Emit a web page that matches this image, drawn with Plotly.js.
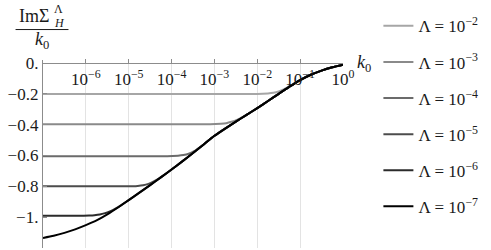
<!DOCTYPE html>
<html>
<head>
<meta charset="utf-8">
<script src="https://cdn.plot.ly/plotly-3.0.1.min.js"></script>
<style>html,body{margin:0;padding:0;background:#fff;}#chart{width:491px;height:250px;}</style>
</head>
<body>
<div id="chart"></div>
<script>
// Series: log10(k0) exponents and Im Σ_H^Λ / k0 values
var seriesNames = ["Λ = 10<sup>−2</sup>", "Λ = 10<sup>−3</sup>", "Λ = 10<sup>−4</sup>", "Λ = 10<sup>−5</sup>", "Λ = 10<sup>−6</sup>", "Λ = 10<sup>−7</sup>"];
var seriesColors = ["#a6a6a6", "#8a8a8a", "#6b6b6b", "#4c4c4c", "#2b2b2b", "#000000"];

var expL2 = [-7, -2, -1.875, -1.75, -1.625, -1.5, -1.375, -1.25, -1.125, -1, -0.75, -0.5, -0.25, 0];
var valL2 = [-0.200, -0.200, -0.199, -0.1973, -0.1931, -0.184, -0.1696, -0.1503, -0.1305, -0.110, -0.076, -0.049, -0.027, -0.010];

var expL3 = [-7, -3.1, -2.975, -2.85, -2.725, -2.6, -2.475, -2.35, -2.225, -2, -1.75, -1.5, -1.25, -1, -0.75, -0.5, -0.25, 0];
var valL3 = [-0.397, -0.397, -0.396, -0.3943, -0.3901, -0.381, -0.3687, -0.3509, -0.3306, -0.292, -0.246, -0.200, -0.153, -0.110, -0.076, -0.049, -0.027, -0.010];

var expL4 = [-7, -4.1, -3.975, -3.85, -3.725, -3.6, -3.475, -3.35, -3.225, -3, -2.75, -2.5, -2.25, -2, -1.75, -1.5, -1.25, -1, -0.75, -0.5, -0.25, 0];
var valL4 = [-0.604, -0.604, -0.603, -0.6013, -0.5971, -0.588, -0.5715, -0.5477, -0.5214, -0.472, -0.425, -0.380, -0.336, -0.292, -0.246, -0.200, -0.153, -0.110, -0.076, -0.049, -0.027, -0.010];

var expL5 = [-7, -5.04, -4.915, -4.79, -4.665, -4.54, -4.415, -4.29, -4.165, -4, -3.75, -3.5, -3.25, -3, -2.75, -2.5, -2.25, -2, -1.75, -1.5, -1.25, -1, -0.75, -0.5, -0.25, 0];
var valL5 = [-0.800, -0.800, -0.799, -0.7973, -0.7931, -0.784, -0.7681, -0.7473, -0.7237, -0.691, -0.638, -0.584, -0.528, -0.472, -0.425, -0.380, -0.336, -0.292, -0.246, -0.200, -0.153, -0.110, -0.076, -0.049, -0.027, -0.010];

var expL6 = [-7, -6.05, -5.925, -5.8, -5.675, -5.55, -5.425, -5.3, -5.175, -5, -4.75, -4.5, -4.25, -4, -3.75, -3.5, -3.25, -3, -2.75, -2.5, -2.25, -2, -1.75, -1.5, -1.25, -1, -0.75, -0.5, -0.25, 0];
var valL6 = [-0.990, -0.990, -0.989, -0.9873, -0.9831, -0.974, -0.9616, -0.9433, -0.9216, -0.889, -0.841, -0.792, -0.742, -0.691, -0.638, -0.584, -0.528, -0.472, -0.425, -0.380, -0.336, -0.292, -0.246, -0.200, -0.153, -0.110, -0.076, -0.049, -0.027, -0.010];

var expL7 = [-7, -6.75, -6.5, -6.25, -6, -5.75, -5.5, -5.25, -5, -4.75, -4.5, -4.25, -4, -3.75, -3.5, -3.25, -3, -2.75, -2.5, -2.25, -2, -1.75, -1.5, -1.25, -1, -0.75, -0.5, -0.25, 0];
var valL7 = [-1.135, -1.121, -1.102, -1.079, -1.052, -1.021, -0.982, -0.937, -0.889, -0.841, -0.792, -0.742, -0.691, -0.638, -0.584, -0.528, -0.472, -0.425, -0.380, -0.336, -0.292, -0.246, -0.200, -0.153, -0.110, -0.076, -0.049, -0.027, -0.010];

var xTickVals = [1e-6, 1e-5, 1e-4, 1e-3, 1e-2, 1e-1, 1e0];
var xTickText = ["10<sup>−6</sup>", "10<sup>−5</sup>", "10<sup>−4</sup>", "10<sup>−3</sup>", "10<sup>−2</sup>", "10<sup>−1</sup>", "10<sup>0</sup>"];
var yTickVals = [0, -0.2, -0.4, -0.6, -0.8, -1.0];
var yTickText = ["0.", "−0.2", "−0.4", "−0.6", "−0.8", "−1."];

var exps = [expL2, expL3, expL4, expL5, expL6, expL7];
var vals = [valL2, valL3, valL4, valL5, valL6, valL7];

var FONT = "'Liberation Serif', 'Times New Roman', serif";
var TXT = "#1a1a1a";
var traces = [];
for (var i = 0; i < exps.length; i++) {
  traces.push({
    type: "scatter", mode: "lines",
    x: exps[i].map(function (e) { return Math.pow(10, e); }),
    y: vals[i],
    name: seriesNames[i],
    legendgroup: "g" + i,
    line: {color: seriesColors[i], width: 2, shape: "spline", smoothing: 0.6},
    hoverinfo: "x+y"
  });
}

var yMin = -1.2, yMax = 0.02;
var layout = {
  width: 491, height: 250,
  margin: {l: 42.5, r: 148, t: 60.4, b: 1.7, pad: 0},
  paper_bgcolor: "#fff", plot_bgcolor: "#fff",
  font: {family: FONT, size: 17, color: TXT},
  showlegend: true,
  legend: {
    x: 1.118, xanchor: "left", y: 1.275, yanchor: "top",
    font: {family: FONT, size: 17, color: TXT},
    tracegroupgap: 11, bgcolor: "rgba(0,0,0,0)", borderwidth: 0,
    itemwidth: 30, maxheight: 245
  },
  xaxis: {
    type: "log", range: [-7, 0],
    anchor: "free", position: (0 - yMin) / (yMax - yMin), side: "bottom",
    showline: true, linecolor: "#8c8c8c", linewidth: 1.2,
    ticks: "inside", ticklen: 4, tickcolor: "#8c8c8c", tickwidth: 1,
    tickvals: xTickVals, ticktext: xTickText,
    tickfont: {family: FONT, size: 17, color: TXT},
    showgrid: true, gridcolor: "#e3e3e3", gridwidth: 1,
    zeroline: false, fixedrange: true
  },
  yaxis: {
    range: [yMin, yMax],
    showline: true, linecolor: "#8c8c8c", linewidth: 1.2,
    ticks: "inside", ticklen: 4, tickcolor: "#8c8c8c",
    tickvals: yTickVals, ticktext: yTickText,
    tickfont: {family: FONT, size: 17, color: TXT},
    showgrid: false, zeroline: false, fixedrange: true
  },
  annotations: [
    {xref: "paper", yref: "y", x: 1.040, y: 0, xanchor: "left", yanchor: "middle", showarrow: false,
     text: "<i>k</i><sub>0</sub>", font: {family: FONT, size: 18, color: TXT}},
    {xref: "paper", yref: "paper", x: -0.0882, y: 1.236, xanchor: "left", yanchor: "middle", showarrow: false,
     text: "ImΣ", font: {family: FONT, size: 18, color: TXT}},
    {xref: "paper", yref: "paper", x: 0.030, y: 1.273, xanchor: "left", yanchor: "middle", showarrow: false,
     text: "Λ", font: {family: FONT, size: 12, color: TXT}},
    {xref: "paper", yref: "paper", x: 0.030, y: 1.199, xanchor: "left", yanchor: "middle", showarrow: false,
     text: "<i>H</i>", font: {family: FONT, size: 12, color: TXT}},
    {xref: "paper", yref: "paper", x: -0.005, y: 1.105, xanchor: "center", yanchor: "middle", showarrow: false,
     text: "<i>k</i><sub>0</sub>", font: {family: FONT, size: 18, color: TXT}}
  ],
  shapes: [
    {type: "line", xref: "paper", yref: "paper", x0: -0.0915, x1: 0.0849, y0: 1.162, y1: 1.162,
     line: {color: TXT, width: 1}}
  ]
};

Plotly.newPlot("chart", traces, layout, {displayModeBar: false, staticPlot: true});
</script>
</body>
</html>
